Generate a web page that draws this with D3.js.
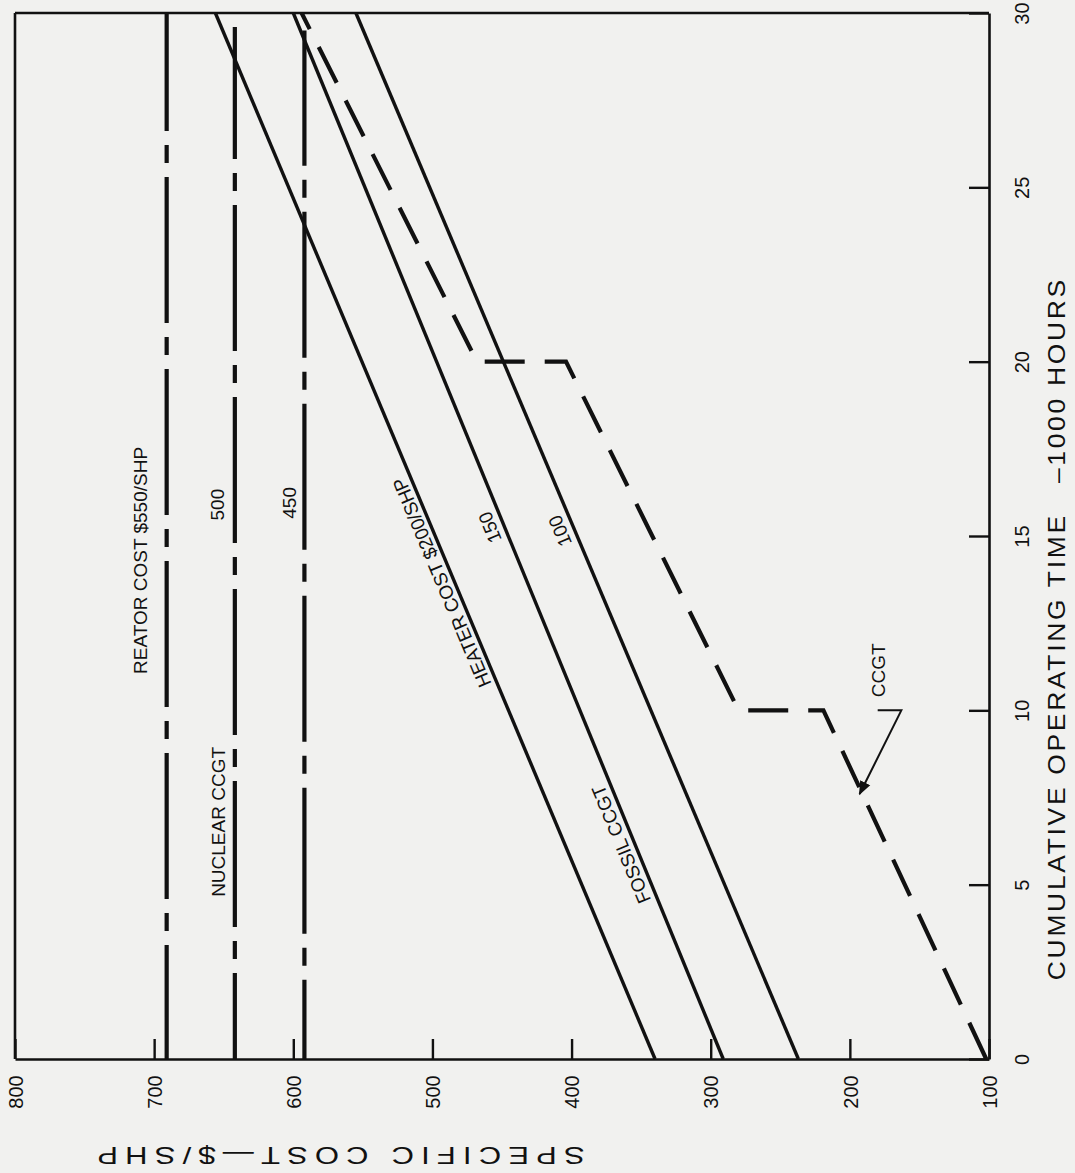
<!DOCTYPE html>
<html>
<head>
<meta charset="utf-8">
<script src="https://cdn.jsdelivr.net/npm/d3@7"></script>
<style>
  html, body { margin: 0; padding: 0; background: #f1f1ef; }
  svg { display: block; }
  text { font-family: "Liberation Sans", Arial, Helvetica, sans-serif; fill: #111; white-space: pre; }
</style>
</head>
<body>
<div id="chart"></div>
<script>
// ---------------- data ----------------
const costTicks = [800, 700, 600, 500, 400, 300, 200, 100];
const hourTicks = [0, 5, 10, 15, 20, 25, 30];

// Nuclear CCGT (reactor cost $550, $500, $450 per SHP) - constant
const nuclearLabels = ["550", "500", "450"];
const nuclearCost = [691, 642, 592];
const nuclearTopHours = [30, 29.6, 29.5];

// Fossil CCGT (heater cost $200, $150, $100 per SHP) - straight lines
const fossilLabels = ["200", "150", "100"];
const fossilCostAt0 = [340, 291, 237];
const fossilCostAt30 = [656, 600, 555];

// CCGT (dashed, stepped)
const ccgtHours = [0, 10, 10, 20, 20, 30];
const ccgtCost = [102, 219, 280, 404, 468, 594];

// ---------------- layout ----------------
const W = 1075, H = 1173;
const svg = d3.select("#chart").append("svg").attr("width", W).attr("height", H);

const x = d3.scaleLinear().domain([800, 100]).range([15, 989]);  // cost -> horizontal
const y = d3.scaleLinear().domain([0, 30]).range([1059, 13]);    // hours -> vertical

const ink = "#111";

// bottom axis (cost)
const gx = svg.append("g").attr("transform", `translate(0,${y(0)})`)
  .call(d3.axisBottom(x).tickValues(costTicks).tickSizeInner(-20).tickSizeOuter(0));
gx.select(".domain").attr("stroke", ink).attr("stroke-width", 2.6);
gx.selectAll(".tick line").attr("stroke", ink).attr("stroke-width", 2.4);
gx.selectAll(".tick text")
  .attr("x", 0).attr("y", 0).attr("dy", "0.36em")
  .attr("transform", "translate(0,33) rotate(-90)")
  .attr("text-anchor", "middle")
  .style("font-size", "20px").attr("fill", ink);

// right axis (hours)
const gy = svg.append("g").attr("transform", `translate(${x(100)},0)`)
  .call(d3.axisRight(y).tickValues(hourTicks).tickSizeInner(-20).tickSizeOuter(0));
gy.select(".domain").attr("stroke", ink).attr("stroke-width", 2.6);
gy.selectAll(".tick line").attr("stroke", ink).attr("stroke-width", 2.4);
gy.selectAll(".tick text")
  .attr("x", 0).attr("y", 0).attr("dy", "0.36em")
  .attr("transform", "translate(33,0) rotate(-90)")
  .attr("text-anchor", "middle")
  .style("font-size", "20px").attr("fill", ink);

// left & top frame lines
svg.append("line").attr("x1", x(800)).attr("x2", x(800)).attr("y1", y(30)).attr("y2", y(0))
  .attr("stroke", ink).attr("stroke-width", 2.6);
svg.append("line").attr("x1", x(800)).attr("x2", x(100)).attr("y1", y(30)).attr("y2", y(30))
  .attr("stroke", ink).attr("stroke-width", 2.6);

// axis titles
svg.append("text")
  .attr("transform", `translate(${x(100) + 68},630) rotate(-90) scale(1.15,1)`)
  .attr("text-anchor", "middle").attr("dy", "0.36em")
  .style("font-size", "23px")
  .attr("textLength", 609).attr("lengthAdjust", "spacing")
  .text("CUMULATIVE OPERATING TIME   \u20131000 HOURS");

svg.append("text")
  .attr("transform", `translate(341,${y(0) + 96}) rotate(180) scale(1.35,1)`)
  .attr("text-anchor", "middle").attr("dy", "0.36em")
  .style("font-size", "23px")
  .attr("textLength", 361).attr("lengthAdjust", "spacing")
  .text("SPECIFIC COST\u2014$/SHP");

// ---------------- lines ----------------
const line = d3.line().x(d => x(d[1])).y(d => y(d[0]));

// nuclear: dash-dot vertical lines
nuclearCost.forEach((c, i) => {
  svg.append("path")
    .datum([[nuclearTopHours[i], c], [0, c]])
    .attr("d", line)
    .attr("fill", "none").attr("stroke", ink).attr("stroke-width", 4.2)
    .attr("stroke-dasharray", "146,14,18,14")
    .attr("stroke-dashoffset", 28 - (y(nuclearTopHours[i]) - y(30)));
});

// fossil: solid sloped lines
fossilCostAt0.forEach((c0, i) => {
  svg.append("path")
    .datum([[0, c0], [30, fossilCostAt30[i]]])
    .attr("d", line)
    .attr("fill", "none").attr("stroke", ink).attr("stroke-width", 3.4);
});

// CCGT dashed stepped line
svg.append("path")
  .datum(ccgtHours.map((h, i) => [h, ccgtCost[i]]))
  .attr("d", line)
  .attr("fill", "none").attr("stroke", ink).attr("stroke-width", 4.2)
  .attr("stroke-dasharray", "40,20").attr("stroke-linejoin", "miter");

// ---------------- labels ----------------
function rot(px, py, ang, txt, size) {
  return svg.append("text")
    .attr("transform", `translate(${px},${py}) rotate(${ang})`)
    .attr("text-anchor", "middle").attr("dy", "0.36em")
    .style("font-size", (size || 19) + "px").text(txt);
}
rot(x(710), y(14.3), -90, "REATOR COST $" + nuclearLabels[0] + "/SHP");
rot(x(654), y(6.8), -90, "NUCLEAR CCGT");
rot(x(655), y(15.9), -90, nuclearLabels[1]);
rot(x(603), y(15.95), -90, nuclearLabels[2]);

// labels parallel to fossil lines
function alongFossil(i, hours, offset, txt) {
  const c0 = fossilCostAt0[i], c1 = fossilCostAt30[i];
  const c = c0 + (c1 - c0) * hours / 30;
  const px = x(c), py = y(hours);
  const dx = x(c1) - x(c0), dy = y(30) - y(0);
  const ang = Math.atan2(dy, dx) * 180 / Math.PI;
  const len = Math.hypot(dx, dy);
  const nx = dy / len, ny = -dx / len;
  rot(px + nx * offset, py + ny * offset, ang, txt);
}
alongFossil(0, 13.8, 12, "HEATER COST $" + fossilLabels[0] + "/SHP");
alongFossil(1, 15.4, 14, fossilLabels[1]);
alongFossil(2, 15.3, 14, fossilLabels[2]);
alongFossil(1, 6.3, 13, "FOSSIL CCGT");

// CCGT arrow label
rot(x(180), y(11.15), -90, "CCGT");
const leader = [[10.0, 180], [10.0, 163], [7.6, 193]];
svg.append("defs").append("marker").attr("id", "ah")
  .attr("viewBox", "0 0 10 10").attr("refX", 9).attr("refY", 5)
  .attr("markerWidth", 7).attr("markerHeight", 7).attr("orient", "auto")
  .append("path").attr("d", "M0,1 L10,5 L0,9 z").attr("fill", ink);
svg.append("path")
  .datum(leader)
  .attr("d", line).attr("fill", "none").attr("stroke", ink).attr("stroke-width", 2)
  .attr("marker-end", "url(#ah)");
</script>
</body>
</html>
